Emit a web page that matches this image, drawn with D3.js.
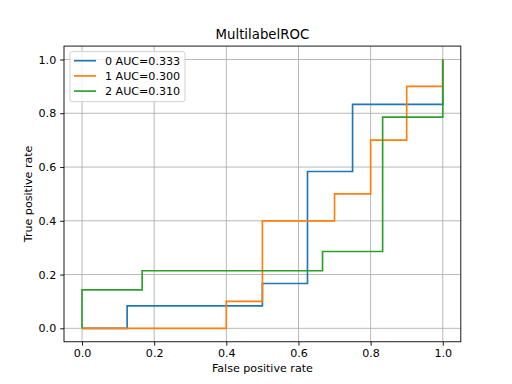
<!DOCTYPE html>
<html>
<head>
<meta charset="utf-8">
<script src="https://cdn.jsdelivr.net/npm/d3@7"></script>
<style>
  body { margin: 0; background: #fff; }
  text { font-family: "DejaVu Sans", sans-serif; }
</style>
</head>
<body>
<div id="chart-area"></div>
<script>
// ROC points per class (false positive rate, true positive rate)
var labels = ["0 AUC=0.333", "1 AUC=0.300", "2 AUC=0.310"];
var colors = ["#1f77b4", "#ff7f0e", "#2ca02c"];
var fpr0 = [0, 0.125, 0.125, 0.5, 0.5, 0.625, 0.625, 0.75, 0.75, 1, 1];
var tpr0 = [0, 0, 0.0833, 0.0833, 0.1667, 0.1667, 0.5833, 0.5833, 0.8333, 0.8333, 1];
var fpr1 = [0, 0.4, 0.4, 0.5, 0.5, 0.7, 0.7, 0.8, 0.8, 0.9, 0.9, 1, 1];
var tpr1 = [0, 0, 0.1, 0.1, 0.4, 0.4, 0.5, 0.5, 0.7, 0.7, 0.9, 0.9, 1];
var fpr2 = [0, 0, 0.1667, 0.1667, 0.6667, 0.6667, 0.8333, 0.8333, 1, 1];
var tpr2 = [0, 0.1429, 0.1429, 0.2143, 0.2143, 0.2857, 0.2857, 0.7857, 0.7857, 1];
var ticks = [0, 0.2, 0.4, 0.6, 0.8, 1.0];

var series = [
    {fpr: fpr0, tpr: tpr0},
    {fpr: fpr1, tpr: tpr1},
    {fpr: fpr2, tpr: tpr2}
];

var width = 512, height = 384;
var pLeft = 64, pRight = 460.8, pTop = 46.08, pBottom = 341.76;

var svg = d3.select("#chart-area").append("svg")
    .attr("width", width)
    .attr("height", height);

var x = d3.scaleLinear().domain([-0.05, 1.05]).range([pLeft, pRight]);
var y = d3.scaleLinear().domain([-0.05, 1.05]).range([pBottom, pTop]);

// grid
var grid = svg.append("g");
grid.selectAll(".gx").data(ticks).enter().append("line")
    .attr("x1", function(d){ return x(d); })
    .attr("x2", function(d){ return x(d); })
    .attr("y1", pTop).attr("y2", pBottom)
    .attr("stroke", "#b0b0b0").attr("stroke-width", 0.9);
grid.selectAll(".gy").data(ticks).enter().append("line")
    .attr("y1", function(d){ return y(d); })
    .attr("y2", function(d){ return y(d); })
    .attr("x1", pLeft).attr("x2", pRight)
    .attr("stroke", "#b0b0b0").attr("stroke-width", 0.9);

// curves
var line = d3.line()
    .x(function(d){ return x(d[0]); })
    .y(function(d){ return y(d[1]); });

svg.append("defs").append("clipPath").attr("id", "clip")
    .append("rect").attr("x", pLeft).attr("y", pTop)
    .attr("width", pRight - pLeft).attr("height", pBottom - pTop);

series.forEach(function(s, i){
    var pts = s.fpr.map(function(v, j){ return [v, s.tpr[j]]; });
    svg.append("path")
        .attr("d", line(pts))
        .attr("fill", "none")
        .attr("stroke", colors[i])
        .attr("stroke-width", 1.67)
        .attr("clip-path", "url(#clip)");
});

// axes
var fmt = d3.format(".1f");
var xAxis = d3.axisBottom(x).tickValues(ticks).tickFormat(fmt).tickSize(3.9).tickPadding(3.9);
var yAxis = d3.axisLeft(y).tickValues(ticks).tickFormat(fmt).tickSize(3.9).tickPadding(3.9);

var gx = svg.append("g").attr("transform", "translate(0," + pBottom + ")").call(xAxis);
var gy = svg.append("g").attr("transform", "translate(" + pLeft + ",0)").call(yAxis);
[gx, gy].forEach(function(g){
    g.select(".domain").remove();
    g.selectAll("line").attr("stroke", "#000").attr("stroke-width", 0.9);
    g.selectAll("text").attr("font-size", "11.1px").attr("fill", "#000")
        .style("font-family", "DejaVu Sans, sans-serif");
});

// frame
svg.append("rect")
    .attr("x", pLeft).attr("y", pTop)
    .attr("width", pRight - pLeft).attr("height", pBottom - pTop)
    .attr("fill", "none").attr("stroke", "#000").attr("stroke-width", 0.9);

// labels
svg.append("text").attr("x", (pLeft + pRight) / 2).attr("y", 39)
    .attr("text-anchor", "middle").attr("font-size", "13.3px").text("MultilabelROC");
svg.append("text").attr("x", (pLeft + pRight) / 2).attr("y", 372)
    .attr("text-anchor", "middle").attr("font-size", "11.1px").text("False positive rate");
svg.append("text")
    .attr("transform", "translate(32," + ((pTop + pBottom) / 2) + ") rotate(-90)")
    .attr("text-anchor", "middle").attr("font-size", "11.1px").text("True positive rate");

// legend
var lg = svg.append("g");
lg.append("rect")
    .attr("x", 70).attr("y", 51.6)
    .attr("width", 115).attr("height", 50)
    .attr("rx", 2.5)
    .attr("fill", "#fff").attr("fill-opacity", 0.8)
    .attr("stroke", "#cccccc").attr("stroke-width", 0.9);
labels.forEach(function(l, i){
    var cy = 60.7 + i * 15.2;
    lg.append("line")
        .attr("x1", 74).attr("x2", 96)
        .attr("y1", cy).attr("y2", cy)
        .attr("stroke", colors[i]).attr("stroke-width", 1.67);
    lg.append("text")
        .attr("x", 105).attr("y", cy + 4)
        .attr("font-size", "11.1px").text(l);
});
</script>
</body>
</html>
